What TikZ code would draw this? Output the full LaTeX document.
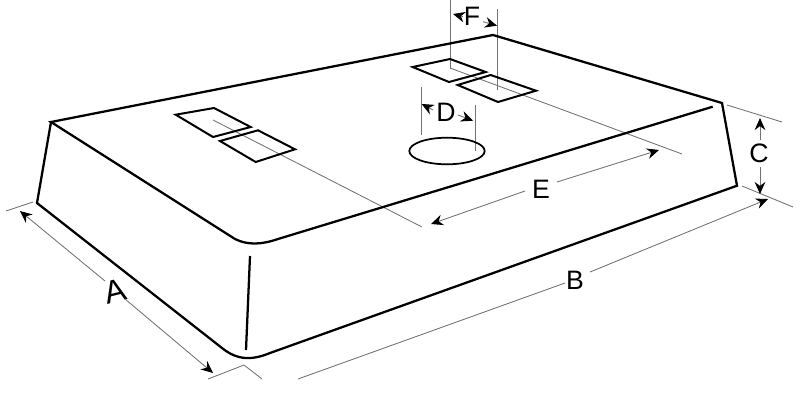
\documentclass[tikz,border=0pt]{standalone}
\usepackage{fontspec}
\setmainfont{Liberation Sans}
\usetikzlibrary{arrows.meta}
\definecolor{guide}{gray}{0.45}
\tikzset{
  outline/.style={draw=black,line width=1.7pt,line join=miter},
  hatch/.style={draw=black,line width=1.5pt,line join=miter},
  guideline/.style={draw=guide,line width=0.65pt},
  dimension/.style={draw=guide,line width=0.65pt,-{Stealth[length=9pt,width=8pt,color=black]}},
  letter/.style={font=\fontsize{20pt}{20pt}\selectfont,inner sep=0pt}
}
\begin{document}
\begin{tikzpicture}[x=0.75pt,y=-0.75pt]
\useasboundingbox (0,0) rectangle (800,411);
% guide lines
\draw[guideline] (6,211) -- (33,202);
\draw[guideline] (208,379) -- (244,365) -- (262,379);
\draw[guideline] (727,105) -- (782,122);
\draw[guideline] (742,186) -- (793,207);
\draw[guideline] (213,120) -- (422,227);
\draw[guideline] (450,68) -- (682,154);
\draw[guideline] (450,0) -- (450,69);
\draw[guideline] (497,9) -- (497,90);
\draw[guideline] (421,87) -- (421,135);
\draw[guideline] (475,105) -- (475,151);
% body
\draw[outline] (712.7,106.7) -- (278,239) .. controls (262,244.5) and (248,245.5) .. (235,239) -- (51,122) -- (493,35) -- (722,103) -- (737,185.7) -- (270,353) .. controls (253,360) and (238,361) .. (222,348) -- (37,203) -- (51,122);
\draw[outline] (250,256) -- (246,350);
% openings
\draw[hatch] (450,59) -- (412.7,67) -- (449,82) -- (485.7,72) -- cycle;
\draw[hatch] (490.7,75) -- (457.7,85) -- (498,102) -- (536,90.7) -- cycle;
\draw[hatch] (214,108) -- (175.7,114.7) -- (213,137) -- (250.7,127) -- cycle;
\draw[hatch] (258,130.3) -- (220,141) -- (255.7,162) -- (295,149.3) -- cycle;
\draw[hatch,line width=1.3pt] (447,151) ellipse [x radius=37.7, y radius=13.3];
% labels
\node[letter,font=\fontsize{24pt}{24pt}\selectfont,rotate=14] (A) at (115,291) {A};
\node[letter] (B) at (575,280) {B};
\node[letter] (C) at (759,153) {C};
\node[letter] (D) at (446,112) {D};
\node[letter] (E) at (541,189) {E};
\node[letter] (F) at (472,16) {F};
% dimension ends
\coordinate (a1) at (20,211); \coordinate (a2) at (213,373);
\coordinate (b1) at (298,379); \coordinate (b2) at (768,199);
\coordinate (c1) at (760,118); \coordinate (c2) at (760,194);
\coordinate (d1) at (421.7,104); \coordinate (d2) at (473,120.7);
\coordinate (e1) at (431,224); \coordinate (e2) at (659,150);
\coordinate (f1) at (453,14); \coordinate (f2) at (497,25.7);
\draw[dimension] (105,281) -- (a1);
\draw[dimension] (125,299) -- (a2);
\draw[guideline] (b1) -- (565,283);
\draw[dimension] (590,272) -- (b2);
\draw[dimension] (c1 |- 0,140) -- (c1);
\draw[dimension] (c2 |- 0,167) -- (c2);
\draw[dimension] (433,110) -- (d1);
\draw[dimension] (458,115) -- (d2);
\draw[dimension] (525,191) -- (e1);
\draw[dimension] (557,182) -- (e2);
\draw[dimension] (463,16.7) -- (f1);
\draw[dimension] (483,21.7) -- (f2);
\end{tikzpicture}
\end{document}
